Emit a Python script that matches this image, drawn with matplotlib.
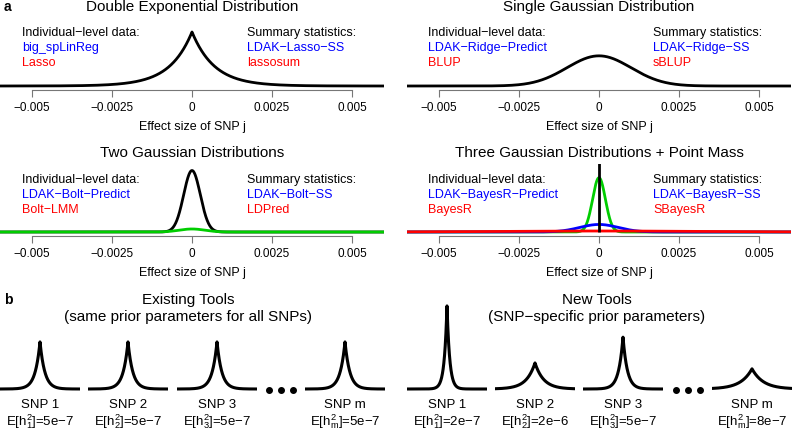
import numpy as np
import matplotlib
matplotlib.use("Agg")
import matplotlib.pyplot as plt

plt.rcParams['font.family'] = ['Liberation Sans', 'DejaVu Sans']
plt.rcParams['mathtext.fontset'] = 'custom'
plt.rcParams['mathtext.rm'] = 'Liberation Sans'
plt.rcParams['mathtext.it'] = 'Liberation Sans'

W, H = 792, 431
BLUE, RED, GREEN = "#0000FF", "#FF0000", "#00CD00"

# panel a: prior distributions (effect size of SNP j)
tick_vals = [-0.005, -0.0025, 0, 0.0025, 0.005]
tick_labels = ["\u22120.005", "\u22120.0025", "0", "0.0025", "0.005"]
titles = ["Double Exponential Distribution", "Single Gaussian Distribution",
          "Two Gaussian Distributions", "Three Gaussian Distributions + Point Mass"]
indiv_tools = [("big_spLinReg", "Lasso"), ("LDAK\u2212Ridge\u2212Predict", "BLUP"),
               ("LDAK\u2212Bolt\u2212Predict", "Bolt\u2212LMM"),
               ("LDAK\u2212BayesR\u2212Predict", "BayesR")]
summ_tools = [("LDAK\u2212Lasso\u2212SS", "lassosum"), ("LDAK\u2212Ridge\u2212SS", "sBLUP"),
              ("LDAK\u2212Bolt\u2212SS", "LDPred"), ("LDAK\u2212BayesR\u2212SS", "SBayesR")]
lasso_scale = 0.0007
ridge_sd = 0.001
bolt_sd = [0.00026, 0.0004]
bolt_w = [0.53, 0.04]
bayesr_sd = [0.0002, 0.0006, 0.003]
bayesr_w = [0.36, 0.15, 0.10]

# panel b: per-SNP double exponential priors
snp_names = ["SNP 1", "SNP 2", "SNP 3", "SNP m"]
snp_sub = ["1", "2", "3", "m"]
existing_h2 = ["5e\u22127", "5e\u22127", "5e\u22127", "5e\u22127"]
existing_scale = [0.12, 0.12, 0.12, 0.12]
new_h2 = ["2e\u22127", "2e\u22126", "5e\u22127", "8e\u22127"]
new_scale = [0.068, 0.217, 0.109, 0.28]

fig = plt.figure(figsize=(W / 100, H / 100), dpi=100)


def px_axes(x0, y0, w, h):
    # x0, y0 = top-left corner in pixels
    return fig.add_axes([x0 / W, 1 - (y0 + h) / H, w / W, h / H])


def ftext(x, y, s, **kw):
    fig.text(x / W, 1 - y / H, s, **kw)


def gauss(x, sd):
    return np.exp(-0.5 * (x / sd) ** 2) / (np.sqrt(2 * np.pi) * sd)


def laplace(x, b):
    return np.exp(-np.abs(x) / b) / (2 * b)


xs = np.linspace(-0.006, 0.006, 2001)
ymax_a = 939.0
boxes = [(0, 20, 384, 71), (407, 20, 384, 71), (0, 165, 384, 72), (407, 165, 384, 72)]
axs = []
for i, (x0, y0, w, h) in enumerate(boxes):
    ax = px_axes(x0, y0, w, h)
    ax.set_xlim(-0.006, 0.006)
    lo = -4 / 71 * ymax_a
    ax.set_ylim(lo, lo + ymax_a * h / 71)
    for s in ["top", "right", "left"]:
        ax.spines[s].set_visible(False)
    ax.spines["bottom"].set_bounds(-0.005, 0.005)
    ax.spines["bottom"].set_color("#777777")
    ax.spines["bottom"].set_linewidth(0.8)
    ax.set_yticks([])
    ax.set_xticks(tick_vals)
    ax.set_xticklabels(tick_labels, fontsize=8.5)
    ax.tick_params(axis="x", length=5, width=0.8, color="#777777", pad=3)
    ax.set_xlabel("Effect size of SNP j", fontsize=9, labelpad=5)
    ax.set_facecolor("none")
    axs.append(ax)

axs[0].plot(xs, laplace(xs, lasso_scale), color="black", lw=2)
axs[1].plot(xs, gauss(xs, ridge_sd), color="black", lw=2)
axs[2].plot(xs, bolt_w[0] * gauss(xs, bolt_sd[0]), color="black", lw=2)
axs[2].plot(xs, bolt_w[1] * gauss(xs, bolt_sd[1]), color=GREEN, lw=2)
axs[3].plot(xs, bayesr_w[0] * gauss(xs, bayesr_sd[0]), color=GREEN, lw=2)
axs[3].plot(xs, bayesr_w[1] * gauss(xs, bayesr_sd[1]), color=BLUE, lw=2)
axs[3].plot(xs, bayesr_w[2] * gauss(xs, bayesr_sd[2]), color=RED, lw=2)
axs[3].vlines(0, 0, 5000, color="black", lw=2)

title_y = [7, 7, 153, 153]
title_x = [192, 599, 192, 599]
text_y = [33, 33, 180, 180]
left_x = [22, 428, 22, 428]
right_x = [247, 653, 247, 653]
for i in range(4):
    ftext(title_x[i], title_y[i], titles[i], fontsize=11, ha="center", va="center")
    ftext(left_x[i], text_y[i], "Individual\u2212level data:", fontsize=9, va="center")
    ftext(left_x[i], text_y[i] + 15, indiv_tools[i][0], fontsize=9, va="center", color=BLUE)
    ftext(left_x[i], text_y[i] + 30, indiv_tools[i][1], fontsize=9, va="center", color=RED)
    ftext(right_x[i], text_y[i], "Summary statistics:", fontsize=9, va="center")
    ftext(right_x[i], text_y[i] + 15, summ_tools[i][0], fontsize=9, va="center", color=BLUE)
    ftext(right_x[i], text_y[i] + 30, summ_tools[i][1], fontsize=9, va="center", color=RED)

ftext(4, 7, "a", fontsize=10, fontweight="bold", va="center")
ftext(4, 300, "b", fontsize=10, fontweight="bold", va="center")

# panel b
ftext(188, 300, "Existing Tools", fontsize=11, ha="center", va="center")
ftext(188, 317, "(same prior parameters for all SNPs)", fontsize=11, ha="center", va="center")
ftext(597, 300, "New Tools", fontsize=11, ha="center", va="center")
ftext(597, 317, "(SNP\u2212specific prior parameters)", fontsize=11, ha="center", va="center")

xm = np.linspace(-1, 1, 801)
px_per_unit = 11.3
groups = [([40, 128, 217, 345], existing_scale, existing_h2, 281),
          ([447, 535, 623, 752], new_scale, new_h2, 688)]
for centers, scales, h2s, dots_x in groups:
    for c, b, name, sub, h2 in zip(centers, scales, snp_names, snp_sub, h2s):
        ax = px_axes(c - 40, 300, 80, 92)
        lo = -2 / px_per_unit
        ax.set_ylim(lo, lo + 92 / px_per_unit)
        ax.set_xlim(-1, 1)
        ax.plot(xm, laplace(xm, b), color="black", lw=2.2)
        ax.axis("off")
        ftext(c, 405, name, fontsize=9.5, ha="center", va="center")
        ftext(c, 422, "E[$\\mathregular{h_{%s}^{2}}$]=%s" % (sub, h2),
              fontsize=9.5, ha="center", va="center")
    dax = px_axes(dots_x - 15, 380, 30, 20)
    dax.set_xlim(-1, 1)
    dax.set_ylim(-1, 1)
    dax.plot([-0.8, 0, 0.8], [-0.1, -0.1, -0.1], "o", color="black", ms=4)
    dax.axis("off")

fig.savefig("out.png", dpi=100)
